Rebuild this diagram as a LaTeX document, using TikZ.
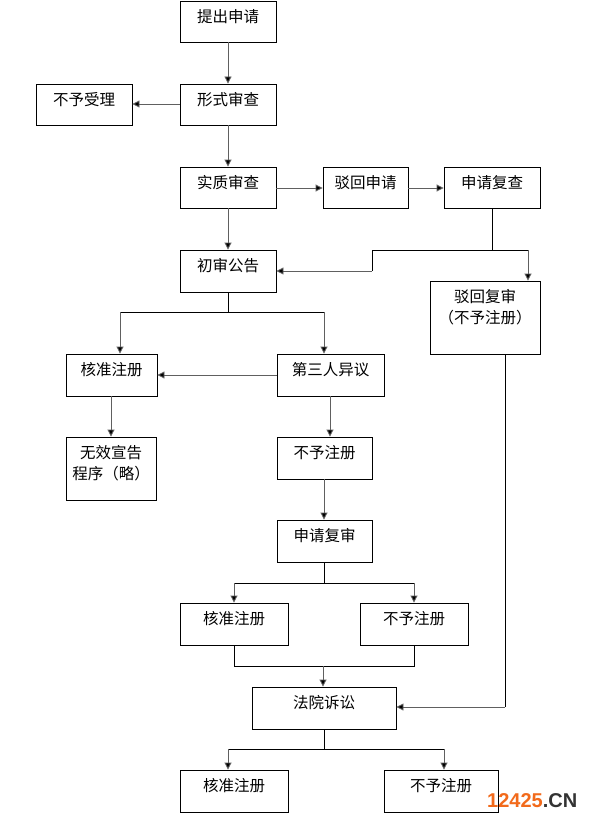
\documentclass[tikz,border=0pt]{standalone}
\usepackage{fontspec}
\newfontfamily\cjk{Noto Sans CJK SC}
\newfontfamily\wmfont{Liberation Sans}
\usetikzlibrary{arrows.meta}
\definecolor{wmorange}{HTML}{F26A1B}
\definecolor{wmdark}{HTML}{333333}
\definecolor{arrgray}{HTML}{606060}
\tikzset{
  x=1pt,y=-1pt,
  boxst/.style={draw=black,line width=0.9pt,inner sep=0pt},
  lbl/.style={anchor=center,inner sep=0pt,align=center,font=\cjk\fontsize{15.5}{21}\selectfont,text=black},
  arr/.style={draw=arrgray,line width=0.9pt,-{Triangle[length=7pt,width=7pt,fill=black]}},
  ln/.style={draw=black,line width=0.9pt},
}
% \bx{name}{x1}{y1}{x2}{y2}{text}{label offset}
\newcommand{\bx}[7]{%
  \node[boxst,minimum width={#4-#2},minimum height={#5-#3}] (#1) at ({(#2+#4)/2},{(#3+#5)/2}) {};
  \node[lbl] (#1t) at ({(#2+#4)/2},{#3+#7}) {#6};}
\begin{document}
\begin{tikzpicture}
\useasboundingbox (0,0) rectangle (595,824);
\fill[white] (0,0) rectangle (595,824);
\bx{A}{180}{1}{276}{42}{提出申请}{16}
\bx{B}{180}{84}{276}{125}{形式审查}{16}
\bx{C}{36}{84}{132}{125}{不予受理}{16}
\bx{D}{180}{167}{276}{208}{实质审查}{16}
\bx{E}{323}{167}{408}{208}{驳回申请}{16}
\bx{F}{444}{167}{540}{208}{申请复查}{16}
\bx{G}{180}{250}{276}{292}{初审公告}{16}
\bx{H}{430}{281}{540}{354}{驳回复审\\（不予注册）}{26.5}
\bx{I}{66}{354}{157}{396}{核准注册}{16}
\bx{J}{277}{354}{384}{396}{第三人异议}{16}
\bx{K}{66}{437}{156}{500}{无效宣告\\程序（略）}{26.5}
\bx{L}{277}{437}{372}{479}{不予注册}{16}
\bx{M}{277}{520}{372}{562}{申请复审}{16}
\bx{N}{180}{603}{288}{645}{核准注册}{16}
\bx{O}{360}{603}{468}{645}{不予注册}{16}
\bx{P}{252}{687}{396}{729}{法院诉讼}{16}
\bx{Q}{180}{770}{288}{812}{核准注册}{16}
\bx{R}{384}{770}{498}{812}{不予注册}{16}
% junction coordinates
\coordinate (fj) at (492,250);
\coordinate (fl) at (372,250);
\coordinate (fl2) at (372,271);
\coordinate (fr) at (528,250);
\coordinate (gj) at (228,312);
\coordinate (gl) at (120,312);
\coordinate (gr) at (324,312);
\coordinate (mj) at (324,583);
\coordinate (ml) at (234,583);
\coordinate (mr) at (414,583);
\coordinate (nb) at (234,666);
\coordinate (ob) at (414,666);
\coordinate (pj) at (323,666);
\coordinate (hj) at (505,707);
\coordinate (qj) at (324,749);
\coordinate (ql) at (228,749);
\coordinate (qr) at (444,749);
% connectors
\draw[arr] (A.south) -- (B.north);
\draw[arr] (B.west |- 0,104) -- (C.east |- 0,104);
\draw[arr] (B.south) -- (D.north);
\draw[arr] (D.east |- 0,188) -- (E.west |- 0,188);
\draw[arr] (E.east |- 0,188) -- (F.west |- 0,188);
\draw[arr] (D.south) -- (G.north);
\draw[ln] (F.south -| fj) -- (fj);
\draw[ln] (fl) -- (fr);
\draw[ln] (fl) -- (fl2);
\draw[arr] (fl2) -- (G.east |- fl2);
\draw[arr] (fr) -- (H.north -| fr);
\draw[ln] (G.south) -- (gj);
\draw[ln] (gl) -- (gr);
\draw[arr] (gl) -- (I.north -| gl);
\draw[arr] (gr) -- (J.north -| gr);
\draw[arr] (J.west |- 0,375) -- (I.east |- 0,375);
\draw[arr] (I.south -| 111,0) -- (K.north -| 111,0);
\draw[arr] (J.south -| 330,0) -- (L.north -| 330,0);
\draw[arr] (L.south -| 324,0) -- (M.north -| 324,0);
\draw[ln] (M.south -| mj) -- (mj);
\draw[ln] (ml) -- (mr);
\draw[arr] (ml) -- (N.north -| ml);
\draw[arr] (mr) -- (O.north -| mr);
\draw[ln] (N.south -| nb) -- (nb) -- (ob) -- (O.south -| ob);
\draw[arr] (pj) -- (P.north -| pj);
\draw[ln] (H.south -| hj) -- (hj);
\draw[arr] (hj) -- (P.east |- hj);
\draw[ln] (P.south -| qj) -- (qj);
\draw[ln] (ql) -- (qr);
\draw[arr] (ql) -- (Q.north -| ql);
\draw[arr] (qr) -- (R.north -| qr);
% watermark
\node[anchor=west,inner sep=0pt,font=\wmfont\bfseries\fontsize{20}{20}\selectfont] (wm) at (487,801) {\textcolor{wmorange}{12425}\textcolor{wmdark}{.CN}};
\end{tikzpicture}
\end{document}
